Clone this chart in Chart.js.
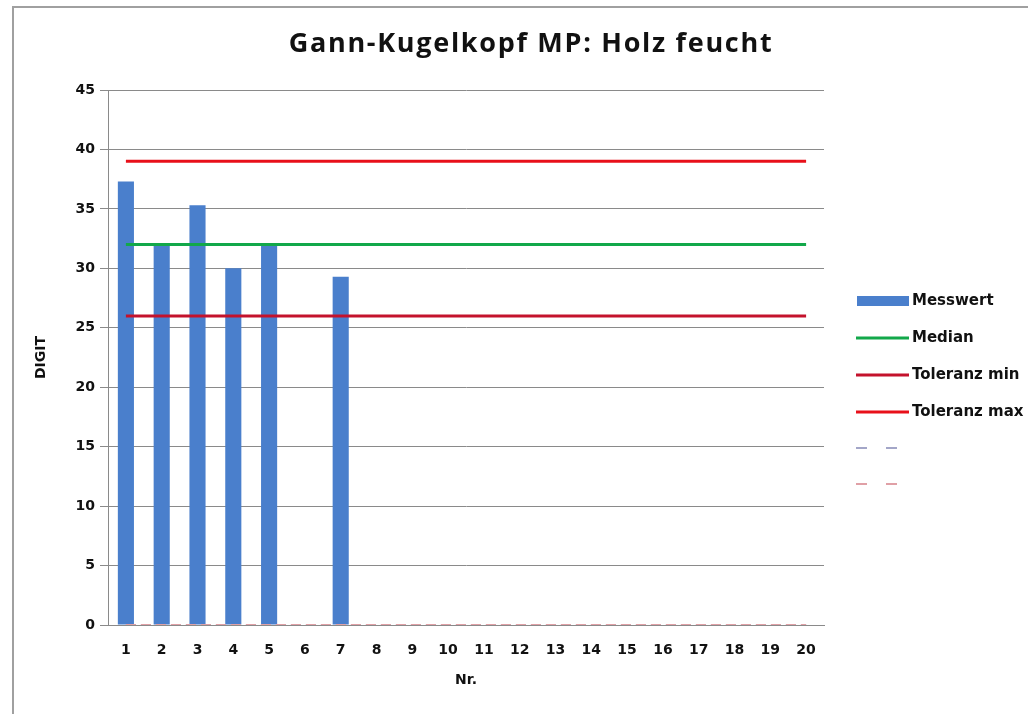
<!DOCTYPE html>
<html>
<head>
<meta charset="utf-8">
<script src="https://cdn.jsdelivr.net/npm/chart.js@4.4.1/dist/chart.umd.min.js"></script>
<style>
    body { margin: 0; background: #fff; }
    #wrap { position: relative; width: 1028px; height: 714px; overflow: hidden; }
    #frame { position: absolute; left: 12px; top: 6px; width: 1100px; height: 800px; border-left: 2px solid #a0a0a0; border-top: 2px solid #a0a0a0; pointer-events: none; }
</style>
</head>
<body>
<div id="wrap">
    <canvas id="chart" width="1028" height="714"></canvas>
    <div id="frame"></div>
</div>
<script>
// Data
const categories = ['1','2','3','4','5','6','7','8','9','10','11','12','13','14','15','16','17','18','19','20'];
const messwert = [37.3, 32, 35.3, 30, 32, 0, 29.3, 0, 0, 0, 0, 0, 0, 0, 0, 0, 0, 0, 0, 0];
const median = [32,32,32,32,32,32,32,32,32,32,32,32,32,32,32,32,32,32,32,32];
const toleranzMin = [26,26,26,26,26,26,26,26,26,26,26,26,26,26,26,26,26,26,26,26];
const toleranzMax = [39,39,39,39,39,39,39,39,39,39,39,39,39,39,39,39,39,39,39,39];
const extraA = [0,0,0,0,0,0,0,0,0,0,0,0,0,0,0,0,0,0,0,0];
const extraB = [0,0,0,0,0,0,0,0,0,0,0,0,0,0,0,0,0,0,0,0];
const yTicks = [0, 5, 10, 15, 20, 25, 30, 35, 40, 45];

const chartTitle = 'Gann-Kugelkopf MP: Holz feucht';
const tickFont = { family: 'DejaVu Sans', weight: 'bold', size: 14 };

// Title and legend drawn at fixed spots, like the Excel layout
const titleAndLegend = {
    id: 'titleAndLegend',
    afterDraw(chart) {
        const ctx = chart.ctx;
        ctx.save();
        ctx.fillStyle = '#111';
        ctx.font = 'bold 27px "Open Sans"';
        ctx.letterSpacing = '1.7px';
        ctx.textAlign = 'center';
        ctx.textBaseline = 'middle';
        ctx.fillText(chartTitle, 531, 44);
        ctx.letterSpacing = '0px';

        ctx.font = 'bold 15px "DejaVu Sans"';
        ctx.textAlign = 'left';
        const rows = [301, 338, 375, 412, 448, 484];
        chart.data.datasets.forEach((ds, i) => {
            const y = rows[i];
            if (ds.type === 'bar') {
                ctx.fillStyle = ds.backgroundColor;
                ctx.fillRect(857, y - 5, 52, 10);
            } else {
                ctx.strokeStyle = ds.borderColor;
                ctx.lineWidth = ds.borderDash ? 2 : 3;
                ctx.setLineDash(ds.borderDash ? [11, 19] : []);
                ctx.beginPath();
                ctx.moveTo(856, y);
                ctx.lineTo(909, y);
                ctx.stroke();
                ctx.setLineDash([]);
            }
            if (ds.label) {
                ctx.fillStyle = '#111';
                ctx.fillText(ds.label, 912, y);
            }
        });
        ctx.restore();
    }
};

const ctx = document.getElementById('chart').getContext('2d');
new Chart(ctx, {
    type: 'bar',
    data: {
        labels: categories,
        datasets: [
            { type: 'bar', label: 'Messwert', data: messwert, backgroundColor: '#4a7fcc', categoryPercentage: 1, barPercentage: 0.45, order: 10 },
            { type: 'line', label: 'Median', data: median, borderColor: '#12a84a', borderWidth: 3, pointRadius: 0, order: 1 },
            { type: 'line', label: 'Toleranz min', data: toleranzMin, borderColor: '#c4122c', borderWidth: 3, pointRadius: 0, order: 1 },
            { type: 'line', label: 'Toleranz max', data: toleranzMax, borderColor: '#e8101a', borderWidth: 3, pointRadius: 0, order: 1 },
            { type: 'line', label: '', data: extraA, borderColor: '#a3a6c8', borderWidth: 2, borderDash: [10, 5], pointRadius: 0, order: 2 },
            { type: 'line', label: '', data: extraB, borderColor: '#e0a0a6', borderWidth: 2, borderDash: [10, 5], pointRadius: 0, order: 1 }
        ]
    },
    options: {
        responsive: false,
        animation: false,
        layout: { padding: { left: 0, right: 204, top: 90, bottom: 0 } },
        plugins: {
            legend: { display: false },
            title: { display: false },
            tooltip: { enabled: false }
        },
        scales: {
            x: {
                offset: true,
                grid: { display: false, drawTicks: false },
                border: { display: true, color: '#8a8a8a', width: 1 },
                ticks: { font: tickFont, color: '#111', padding: 17, maxRotation: 0, autoSkip: false },
                title: { display: true, text: 'Nr.', font: { family: 'DejaVu Sans', weight: 'bold', size: 14 }, color: '#111', padding: { top: 0, bottom: 25 } },
                afterFit(scale) { scale.height = 89; }
            },
            y: {
                min: 0,
                max: 45,
                afterBuildTicks(scale) { scale.ticks = yTicks.map(v => ({ value: v })); },
                grid: { color: '#8a8a8a', lineWidth: 1, tickLength: 8 },
                border: { display: true, color: '#8a8a8a', width: 1 },
                ticks: { font: tickFont, color: '#111', padding: 5 },
                title: { display: true, text: 'DIGIT', font: { family: 'DejaVu Sans', weight: 'bold', size: 14 }, color: '#111', padding: { top: 33, bottom: 0 } },
                afterFit(scale) { scale.width = 108; }
            }
        }
    },
    plugins: [titleAndLegend]
});
</script>
</body>
</html>
